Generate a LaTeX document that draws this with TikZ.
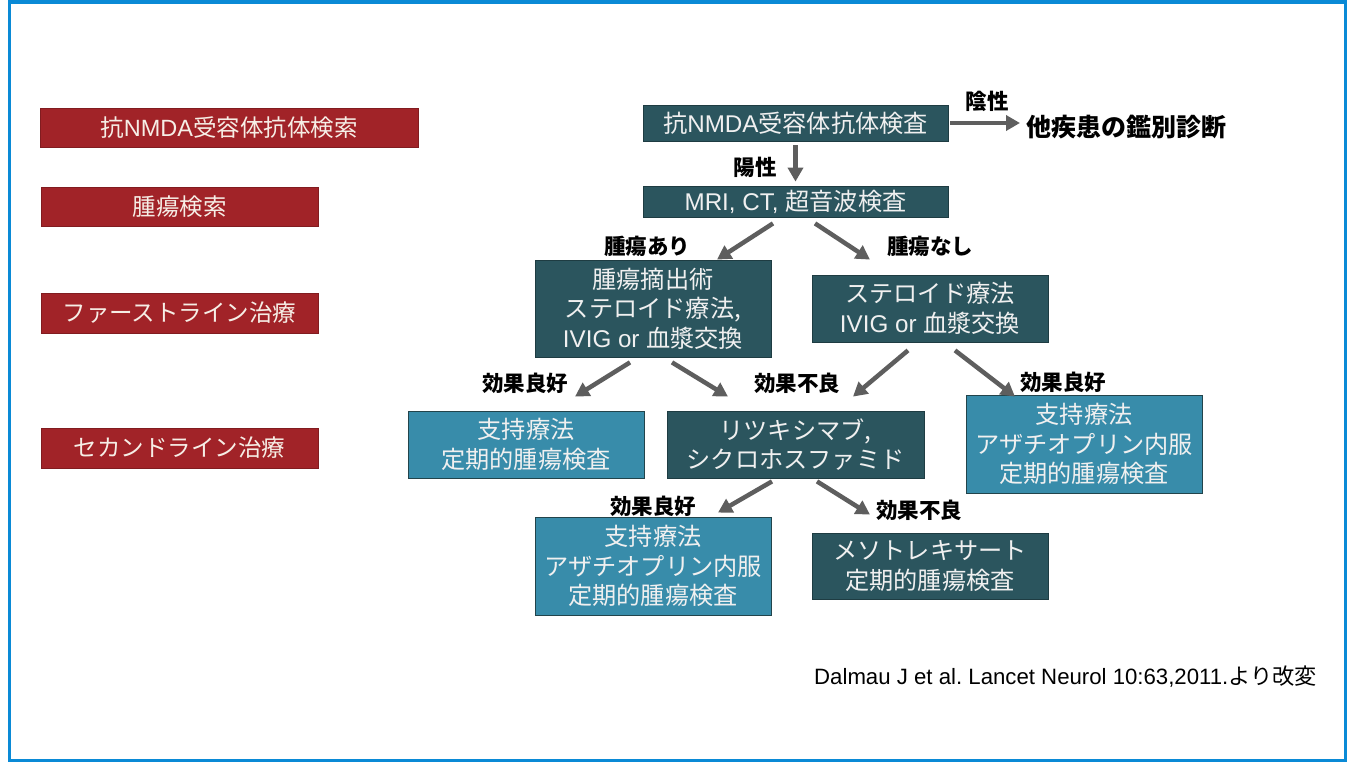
\documentclass[tikz,border=0pt]{standalone}
\usepackage{fontspec}
\setmainfont{Noto Sans CJK JP}
\newfontfamily\lat{Liberation Sans}
\usetikzlibrary{arrows.meta}
\frenchspacing
\definecolor{frameblue}{HTML}{0A8AD6}
\definecolor{redbox}{HTML}{A12328}
\definecolor{darkbox}{HTML}{2B555E}
\definecolor{lightbox}{HTML}{388CAA}
\definecolor{boxtext}{HTML}{F0F0F0}
\definecolor{redtext}{HTML}{F6EEE6}
\definecolor{arrowgrey}{HTML}{5E5E5E}
\tikzset{
  redlabel/.style={fill=redbox, draw=redbox!80!black, line width=0.6pt, inner sep=0pt, text=redtext, font=\fontsize{23.5}{28}\selectfont},
  darkstep/.style={fill=darkbox, draw=darkbox!70!black, line width=0.8pt, inner sep=0pt, text=boxtext, align=center, font=\fontsize{24.2}{29.5}\selectfont},
  lightstep/.style={fill=lightbox, draw=darkbox!80!black, line width=0.8pt, inner sep=0pt, text=boxtext, align=center, font=\fontsize{24.2}{29.5}\selectfont},
  lbl/.style={inner sep=0pt, text=black, font=\fontsize{21.5}{24}\selectfont\bfseries},
  arr/.style={draw=arrowgrey, line width=4.5pt, -{Triangle[length=14pt,width=15pt]}}
}
\begin{document}
\frenchspacing
\begin{tikzpicture}[x=1pt,y=-1pt]
\useasboundingbox (0,0) rectangle (1353,763);
\fill[white] (0,0) rectangle (1353,763);
\draw[frameblue, line width=3.5pt] (9.5,1.8) rectangle (1345.5,760.5);

% left stage labels
\node[redlabel, minimum width=378pt, minimum height=39pt] (r1) at (229,127.5) {抗{\lat NMDA}受容体抗体検索};
\node[redlabel, minimum width=277pt, minimum height=39pt] (r2) at (179.5,206.5) {腫瘍検索};
\node[redlabel, minimum width=277pt, minimum height=40pt] (r3) at (179.5,313) {ファーストライン治療};
\node[redlabel, minimum width=277pt, minimum height=40pt] (r4) at (179.5,448) {セカンドライン治療};

% flow boxes
\node[darkstep, minimum width=305pt, minimum height=36pt] (A) at (795.5,123) {抗{\lat NMDA}受容体抗体検査};
\node[darkstep, minimum width=305pt, minimum height=31pt] (B) at (795.5,201.5) {{\lat MRI, CT, }超音波検査};
\node[darkstep, minimum width=236pt, minimum height=97pt] (C) at (653,308.5) {腫瘍摘出術\\ステロイド療法,\\{\lat IVIG or }血漿交換};
\node[darkstep, minimum width=236pt, minimum height=67pt] (D) at (930,308.5) {ステロイド療法\\{\lat IVIG or }血漿交換};
\node[lightstep, minimum width=236pt, minimum height=67pt] (E) at (526,444.5) {支持療法\\定期的腫瘍検査};
\node[darkstep, minimum width=257pt, minimum height=67pt] (F) at (795.5,444.5) {リツキシマブ,\\シクロホスファミド};
\node[lightstep, minimum width=236pt, minimum height=98pt] (G) at (1084,444) {支持療法\\アザチオプリン内服\\定期的腫瘍検査};
\node[lightstep, minimum width=236pt, minimum height=98pt] (H) at (653,566) {支持療法\\アザチオプリン内服\\定期的腫瘍検査};
\node[darkstep, minimum width=236pt, minimum height=66pt] (I) at (930,566) {メソトレキサート\\定期的腫瘍検査};

\node[lbl, anchor=west, font=\fontsize{25}{28}\selectfont\bfseries] (T) at (1026,127) {他疾患の鑑別診断};

% connectors
\draw[arr] ([yshift=-4pt]A.south) -- ([yshift=4pt]B.north);
\draw[arr] ([xshift=2pt]A.east) -- ([xshift=-6pt,yshift=4pt]T.west);
\draw[arr] ([xshift=-22.5pt,yshift=-6pt]B.south) -- ([xshift=64pt]C.north);
\draw[arr] ([xshift=19.5pt,yshift=-6pt]B.south) -- ([xshift=-60pt,yshift=15pt]D.north);
\draw[arr] ([xshift=-23pt,yshift=-5pt]C.south) -- ([xshift=49pt,yshift=14pt]E.north);
\draw[arr] ([xshift=19pt,yshift=-5pt]C.south) -- ([xshift=-67.5pt,yshift=14pt]F.north);
\draw[arr] ([xshift=-22pt,yshift=-8pt]D.south) -- ([xshift=57.5pt,yshift=14pt]F.north);
\draw[arr] ([xshift=25pt,yshift=-8pt]D.south) -- ([xshift=-69pt,yshift=-2pt]G.north);
\draw[arr] ([xshift=-23.5pt,yshift=-3pt]F.south) -- ([xshift=65pt,yshift=4pt]H.north);
\draw[arr] ([xshift=21.5pt,yshift=-3pt]F.south) -- ([xshift=-60pt,yshift=18pt]I.north);

% connector labels
\node[lbl] (l1) at (987,101) {陰性};
\node[lbl] (l2) at (755,167) {陽性};
\node[lbl] (l3) at (647,246) {腫瘍あり};
\node[lbl] (l4) at (930,246) {腫瘍なし};
\node[lbl] (l5) at (525,383) {効果良好};
\node[lbl] (l6) at (797,383) {効果不良};
\node[lbl] (l7) at (1063,382) {効果良好};
\node[lbl] (l8) at (653,506) {効果良好};
\node[lbl] (l9) at (919,510) {効果不良};

% citation
\node[anchor=east, inner sep=0pt, font=\fontsize{22.2}{25}\selectfont] (cite) at (1317,677) {{\lat Dalmau J et al. Lancet Neurol 10:63,2011.}より改変};
\end{tikzpicture}
\end{document}
